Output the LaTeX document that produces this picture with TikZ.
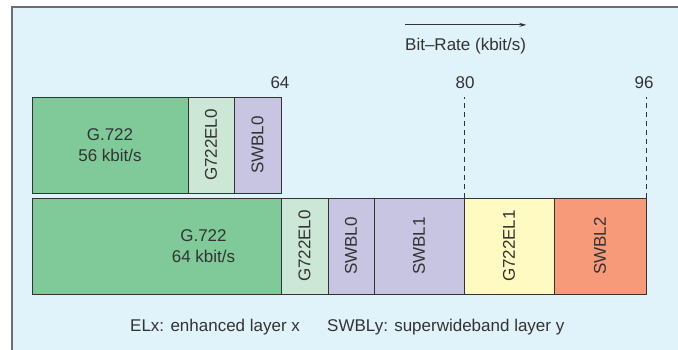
\documentclass[tikz,border=0pt]{standalone}
\usepackage{fontspec}
\setmainfont{Liberation Sans}
\usetikzlibrary{arrows.meta}
\definecolor{panelblue}{HTML}{E0F2FA}
\definecolor{framegray}{HTML}{6E6E6E}
\definecolor{coregreen}{HTML}{80CA9A}
\definecolor{elgreen}{HTML}{CCE7D6}
\definecolor{swblviolet}{HTML}{C8C5E2}
\definecolor{elyellow}{HTML}{FFF9C2}
\definecolor{swblsalmon}{HTML}{F69A7A}
\definecolor{inkgray}{HTML}{333333}

\begin{document}
\begin{tikzpicture}[x=1pt, y=-1pt,
	layer/.style={draw=inkgray, line width=1pt, anchor=north west, inner sep=0pt, outer sep=0pt,
		minimum height=96pt, text=inkgray, font=\fontsize{17}{21}\selectfont, align=center},
	lbl/.style={text=inkgray, font=\fontsize{17}{21}\selectfont, inner sep=0pt, align=center}]
	\useasboundingbox (0,0) rectangle (678,349);
	\clip (0,0) rectangle (678,349);
	\draw[framegray, fill=panelblue, line width=1.5pt] (12,7) rectangle (690,360);

	\node[layer, fill=coregreen, minimum width=156pt] (g56) at (32,97) {G.722\\56 kbit/s};
	\node[layer, fill=elgreen, minimum width=46pt] (el0a) at (g56.north east) {\rotatebox{90}{G722EL0}};
	\node[layer, fill=swblviolet, minimum width=47pt] (swbl0a) at (el0a.north east) {\rotatebox{90}{SWBL0}};

	\node[layer, fill=coregreen, minimum width=249pt] (g64) at (32,198) {};
	\node[lbl] (g64t) at ([xshift=47pt]g64.center) {G.722\\64 kbit/s};
	\node[layer, fill=elgreen, minimum width=47pt] (el0b) at (g64.north east) {\rotatebox{90}{G722EL0}};
	\node[layer, fill=swblviolet, minimum width=46pt] (swbl0b) at (el0b.north east) {\rotatebox{90}{SWBL0}};
	\node[layer, fill=swblviolet, minimum width=90pt] (swbl1) at (swbl0b.north east) {\rotatebox{90}{SWBL1}};
	\node[layer, fill=elyellow, minimum width=90pt] (el1) at (swbl1.north east) {\rotatebox{90}{G722EL1}};
	\node[layer, fill=swblsalmon, minimum width=92pt] (swbl2) at (el1.north east) {\rotatebox{90}{SWBL2}};

	\draw[inkgray, dash pattern=on 5pt off 4pt] (el1.north west) -- (el1.north west |- g56.north);
	\draw[inkgray, dash pattern=on 5pt off 4pt] (swbl2.north east) -- (swbl2.north east |- g56.north);

	\node[lbl] (n64) at (280,83) {64};
	\node[lbl] (n80) at (465,83) {80};
	\node[lbl] (n96) at (644,83) {96};

	\node[lbl, anchor=west] (rate) at (405,46) {Bit--Rate (kbit/s)};
	\draw[inkgray, line width=1pt, -{Stealth[length=7pt,width=4pt]}] ([yshift=13pt]rate.north west) -- ([yshift=13pt]rate.north east);

	\node[lbl, anchor=west] (elx) at (130,327) {ELx: enhanced layer x};
	\node[lbl, anchor=west] (swbly) at (327,327) {SWBLy: superwideband layer y};
\end{tikzpicture}
\end{document}
